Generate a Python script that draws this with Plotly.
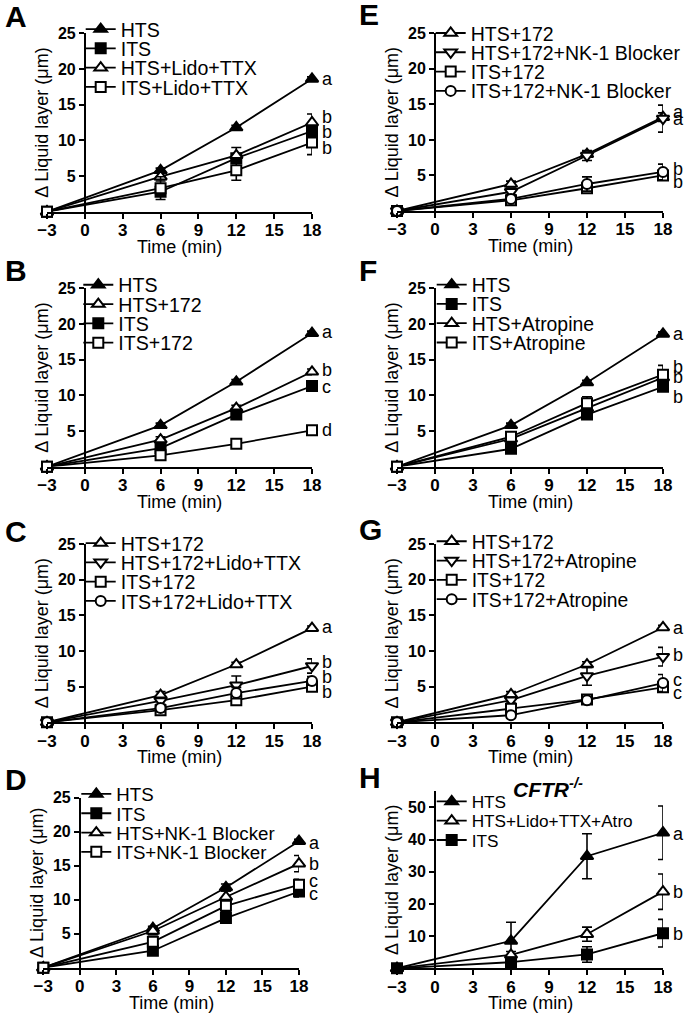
import plotly.graph_objects as go

W, H = 685, 1022
FONT = "Arial, Liberation Sans, Helvetica, sans-serif"

# ---------------- data ----------------
time_min = [-3, 6, 12, 18]
x_ticks = [-3, 0, 3, 6, 9, 12, 15, 18]

# Panel A
A_names = ["HTS", "ITS", "HTS+Lido+TTX", "ITS+Lido+TTX"]
A_HTS = [0, 5.8, 11.8, 18.6]
A_ITS = [0, 2.8, 7.5, 11.3]
A_HTS_LT = [0, 4.9, 7.9, 12.5]
A_ITS_LT = [0, 3.3, 5.8, 9.7]
A_err = [[0, 0.3, 0.3, 0.3], [0, 0.5, 0.6, 0.8], [0, 0.6, 1.1, 1.2], [0, 1.6, 1.4, 1.7]]
A_letters = ["a", "b", "b", "b"]

# Panel B
B_names = ["HTS", "HTS+172", "ITS", "ITS+172"]
B_HTS = [0, 5.8, 11.9, 18.7]
B_HTS172 = [0, 3.8, 8.2, 13.3]
B_ITS = [0, 2.6, 7.3, 11.3]
B_ITS172 = [0, 1.6, 3.2, 5.1]
B_err = [[0, 0.3, 0.3, 0.3], [0, 0.4, 0.4, 0.4], [0, 0.3, 0.3, 0.3], [0, 0.3, 0.3, 0.3]]
B_letters = ["a", "b", "c", "d"]

# Panel C
C_names = ["HTS+172", "HTS+172+Lido+TTX", "ITS+172", "ITS+172+Lido+TTX"]
C_HTS172 = [0, 3.8, 8.1, 13.2]
C_HTS172_LT = [0, 3.0, 5.2, 7.9]
C_ITS172 = [0, 1.7, 3.1, 5.0]
C_ITS172_LT = [0, 2.0, 4.1, 5.8]
C_err = [[0, 0.5, 0.3, 0.3], [0, 0.5, 1.3, 1.0], [0, 0.3, 0.3, 0.4], [0, 0.5, 0.8, 0.6]]
C_letters = ["a", "b", "b", "b"]

# Panel D
D_names = ["HTS", "ITS", "HTS+NK-1 Blocker", "ITS+NK-1 Blocker"]
D_HTS = [0, 5.8, 11.8, 18.6]
D_ITS = [0, 2.5, 7.3, 11.2]
D_HTS_NK = [0, 5.4, 10.4, 15.3]
D_ITS_NK = [0, 3.8, 9.1, 12.2]
D_err = [[0, 0.3, 0.5, 0.3], [0, 0.4, 0.5, 0.8], [0, 0.5, 0.9, 1.2], [0, 0.8, 0.8, 0.8]]
D_letters = ["a", "b", "c", "c"]

# Panel E
E_names = ["HTS+172", "HTS+172+NK-1 Blocker", "ITS+172", "ITS+172+NK-1 Blocker"]
E_HTS172 = [0, 3.8, 8.0, 13.2]
E_HTS172_NK = [0, 2.7, 7.8, 13.0]
E_ITS172 = [0, 1.5, 3.2, 5.0]
E_ITS172_NK = [0, 1.7, 3.8, 5.5]
E_err = [[0, 0.4, 0.4, 0.6], [0, 0.4, 0.7, 1.9], [0, 0.3, 0.3, 0.4], [0, 0.4, 1.0, 1.1]]
E_letters = ["a", "a", "b", "b"]

# Panel F
F_names = ["HTS", "ITS", "HTS+Atropine", "ITS+Atropine"]
F_HTS = [0, 5.8, 11.8, 18.6]
F_ITS = [0, 2.5, 7.3, 11.2]
F_HTS_At = [0, 3.9, 8.2, 12.5]
F_ITS_At = [0, 4.2, 8.9, 12.9]
F_err = [[0, 0.3, 0.3, 0.3], [0, 0.4, 0.5, 0.6], [0, 0.5, 0.6, 0.8], [0, 0.6, 0.9, 1.3]]
F_letters = ["a", "b", "b", "b"]

# Panel G
G_names = ["HTS+172", "HTS+172+Atropine", "ITS+172", "ITS+172+Atropine"]
G_HTS172 = [0, 3.9, 8.1, 13.3]
G_HTS172_At = [0, 3.1, 6.5, 9.2]
G_ITS172 = [0, 1.9, 3.2, 4.9]
G_ITS172_At = [0, 1.0, 3.1, 5.5]
G_err = [[0, 0.4, 0.4, 0.3], [0, 0.4, 1.3, 1.3], [0, 0.4, 0.3, 0.3], [0, 0.4, 0.4, 1.2]]
G_letters = ["a", "b", "c", "c"]

# Panel H (CFTR-/-)
H_names = ["HTS", "HTS+Lido+TTX+Atro", "ITS"]
H_HTS = [0, 8.5, 34.8, 42.1]
H_HTS_LTA = [0, 4.2, 10.6, 23.8]
H_ITS = [0, 1.9, 4.3, 10.9]
H_err = [[0, 5.8, 7.0, 8.3], [0, 1.0, 2.2, 5.5], [0, 0.6, 2.4, 4.3]]
H_letters = ["a", "b", "b"]

# ---------------- styles & layout geometry ----------------
SYM = {
    "tri": ("triangle-up", "black"),
    "sq": ("square", "black"),
    "tri_o": ("triangle-up", "white"),
    "sq_o": ("square", "white"),
    "trid_o": ("triangle-down", "white"),
    "circ_o": ("circle", "white"),
}

# (panel letter, names, series, errors, symbols, letters, letter y positions,
#  x pixel span, y pixel span, y max, y ticks, legend text-left px, legend first-row px,
#  panel-letter left/centre px, legend font size)
panels = [
    ("A", A_names, [A_HTS, A_ITS, A_HTS_LT, A_ITS_LT], A_err, ["tri", "sq", "tri_o", "sq_o"],
     A_letters, [18.6, 13.3, 11.2, 8.9], (47, 312), (33.3, 211.7), 25, [5, 10, 15, 20, 25],
     (121.7, 29.3), (3, 16), 19.6),
    ("B", B_names, [B_HTS, B_HTS172, B_ITS, B_ITS172], B_err, ["tri", "tri_o", "sq", "sq_o"],
     B_letters, [18.9, 13.5, 11.2, 5.1], (47, 312), (288.3, 466.7), 25, [5, 10, 15, 20, 25],
     (119.3, 285), (3, 270), 19.6),
    ("C", C_names, [C_HTS172, C_HTS172_LT, C_ITS172, C_ITS172_LT], C_err, ["tri_o", "trid_o", "sq_o", "circ_o"],
     C_letters, [13.3, 8.5, 6.4, 4.3], (47, 312), (544, 722.3), 25, [5, 10, 15, 20, 25],
     (121.7, 543.3), (3, 531), 19.6),
    ("D", D_names, [D_HTS, D_ITS, D_HTS_NK, D_ITS_NK], D_err, ["tri", "sq", "tri_o", "sq_o"],
     D_letters, [18.4, 15.2, 12.7, 10.8], (43.3, 299), (797.7, 967.7), 25, [5, 10, 15, 20, 25],
     (117.3, 794.3), (3, 779), 18.7),
    ("E", E_names, [E_HTS172, E_HTS172_NK, E_ITS172, E_ITS172_NK], E_err, ["tri_o", "trid_o", "sq_o", "circ_o"],
     E_letters, [13.9, 12.9, 5.9, 4.1], (397, 663), (33.3, 211), 25, [5, 10, 15, 20, 25],
     (471.7, 33.3), (357, 14), 19.5),
    ("F", F_names, [F_HTS, F_ITS, F_HTS_At, F_ITS_At], F_err, ["tri", "sq", "tri_o", "sq_o"],
     F_letters, [18.6, 14.0, 12.6, 9.8], (397, 663), (288.3, 466.7), 25, [5, 10, 15, 20, 25],
     (472.7, 285), (357, 270), 19.4),
    ("G", G_names, [G_HTS172, G_HTS172_At, G_ITS172, G_ITS172_At], G_err, ["tri_o", "trid_o", "sq_o", "circ_o"],
     G_letters, [13.2, 9.4, 5.9, 4.1], (397, 663), (544, 722.3), 25, [5, 10, 15, 20, 25],
     (472.7, 541.7), (357, 529), 19.3),
    ("H", H_names, [H_HTS, H_HTS_LTA, H_ITS], H_err, ["tri", "tri_o", "sq"],
     H_letters, [41.7, 23.6, 10.7], (397, 663), (791.2, 968.3), 55, [10, 20, 30, 40, 50],
     (472.7, 801.7), (357, 777), 17.2),
]

LEG_DX = 41      # text-left offset from legend box left (px)
LEG_ROW = 19.3   # spacing between legend rows (px)
XTITLE_OFF = 35  # x-axis title centre below the axis line (px)

fig = go.Figure()
layout = dict(
    template="none",
    width=W, height=H,
    margin=dict(l=0, r=0, t=0, b=0, autoexpand=False),
    paper_bgcolor="white", plot_bgcolor="white",
    font=dict(family=FONT, color="black"),
    showlegend=True,
    annotations=[],
)

leg_idx = 0
for i, (plab, names, series, errs, syms, letters, let_y, xpx, ypx, ymax, yticks,
        legpos, labpos, legfont) in enumerate(panels, start=1):
    xs = "" if i == 1 else str(i)
    xref, yref = "x" + xs, "y" + xs
    x0, x1 = xpx[0] / W, xpx[1] / W
    y0, y1 = 1 - ypx[1] / H, 1 - ypx[0] / H
    for k, (name, vals, err, s) in enumerate(zip(names, series, errs, syms)):
        leg_idx += 1
        legname = "legend" if leg_idx == 1 else "legend" + str(leg_idx)
        sym, fill = SYM[s]
        fig.add_trace(go.Scatter(
            x=time_min, y=vals, name=name, mode="lines+markers",
            xaxis=xref, yaxis=yref, legend=legname, cliponaxis=False,
            line=dict(color="black", width=1.8),
            marker=dict(symbol=sym, size=11 if "tri" in s else 10, color=fill,
                        line=dict(color="black", width=2)),
            error_y=dict(type="data", array=err, visible=True, color="black",
                         thickness=1.6, width=5),
        ))
        layout[legname] = dict(
            x=(legpos[0] - LEG_DX) / W, y=1 - (legpos[1] + k * LEG_ROW) / H,
            xanchor="left", yanchor="middle", traceorder="normal",
            bgcolor="rgba(0,0,0,0)", borderwidth=0,
            font=dict(family=FONT, size=legfont, color="black"),
        )
    layout["xaxis" + xs] = dict(
        domain=[x0, x1], range=[-3, 18], anchor=yref, automargin=False,
        tickvals=x_ticks, ticks="outside", ticklen=5, tickwidth=1.6, tickcolor="black",
        ticklabelstandoff=-3,
        showline=True, linecolor="black", linewidth=1.8, showgrid=False, zeroline=False,
        tickfont=dict(family=FONT, size=17, color="black", weight="bold"),
    )
    layout["yaxis" + xs] = dict(
        domain=[y0, y1], range=[0, ymax], anchor="free", automargin=False,
        position=x0 + 3 / 21 * (x1 - x0),
        tickvals=yticks, ticks="outside", ticklen=5, tickwidth=1.6, tickcolor="black",
        showline=True, linecolor="black", linewidth=1.8, showgrid=False, zeroline=False,
        tickfont=dict(family=FONT, size=16, color="black", weight="bold"),
        title=dict(text="Δ Liquid layer (μm)", font=dict(family=FONT, size=18, color="black"), standoff=4),
    )
    # x-axis title
    layout["annotations"].append(dict(
        text="Time (min)", xref="paper", yref="paper",
        x=(x0 + x1) / 2, y=1 - (ypx[1] + XTITLE_OFF) / H,
        xanchor="center", yanchor="middle", showarrow=False,
        font=dict(family=FONT, size=18, color="black"),
    ))
    # panel letter
    layout["annotations"].append(dict(
        text="<b>%s</b>" % plab, xref="paper", yref="paper",
        x=labpos[0] / W, y=1 - labpos[1] / H,
        xanchor="left", yanchor="middle", showarrow=False,
        font=dict(family=FONT, size=30, color="black"),
    ))
    # significance letters
    for lt, ly in zip(letters, let_y):
        layout["annotations"].append(dict(
            text=lt, xref=xref, yref=yref, x=18, y=ly, xanchor="left", yanchor="middle",
            xshift=8, showarrow=False, font=dict(family=FONT, size=18, color="black"),
        ))

# title of panel H
layout["annotations"].append(dict(
    text="<b><i>CFTR<sup>-/-</sup></i></b>", xref="paper", yref="paper",
    x=548 / W, y=1 - 788 / H, xanchor="center", yanchor="middle", showarrow=False,
    font=dict(family=FONT, size=21, color="black"),
))

fig.update_layout(**layout)
fig.write_html("out.html", config={"displayModeBar": False},
               post_script="document.body.style.margin='0px';document.body.style.overflow='hidden';")
